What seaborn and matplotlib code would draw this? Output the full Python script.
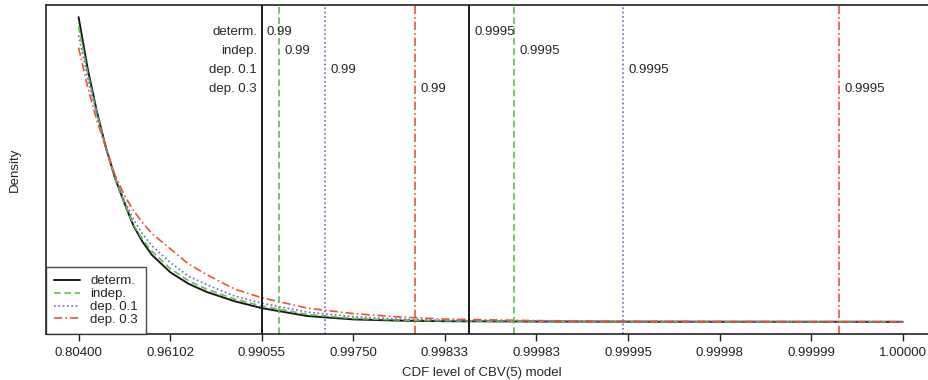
import pandas as pd
import seaborn as sns
import matplotlib.pyplot as plt

# x positions on the (evenly spaced) CDF-level axis, tick i <-> tick_labels[i]
tick_labels = ["0.80400", "0.96102", "0.99055", "0.99750", "0.99833",
               "0.99983", "0.99995", "0.99998", "0.99999", "1.00000"]

u = [0, 0.1, 0.2, 0.3, 0.4, 0.5, 0.6, 0.7, 0.8, 1.0, 1.2, 1.4, 1.7,
     2.0, 2.5, 3.0, 3.5, 4.0, 5.0, 6.0, 7.0, 8.0, 9.0]

determ = [1.00, 0.83, 0.69, 0.57, 0.47, 0.39, 0.315, 0.262, 0.22, 0.163, 0.125, 0.098, 0.068,
          0.045, 0.019, 0.008, 0.004, 0.002, 0.001, 0.0005, 0.0003, 0.0002, 0.0001]
indep = [0.97, 0.815, 0.685, 0.57, 0.47, 0.392, 0.318, 0.27, 0.232, 0.175, 0.135, 0.107, 0.075,
         0.052, 0.024, 0.011, 0.006, 0.003, 0.0013, 0.0007, 0.0004, 0.0003, 0.0002]
dep01 = [0.94, 0.80, 0.68, 0.57, 0.475, 0.40, 0.335, 0.288, 0.25, 0.195, 0.15, 0.122, 0.085,
         0.061, 0.032, 0.017, 0.009, 0.005, 0.002, 0.001, 0.0007, 0.0004, 0.0003]
dep03 = [0.90, 0.77, 0.66, 0.57, 0.48, 0.415, 0.365, 0.325, 0.29, 0.24, 0.19, 0.155, 0.108,
         0.079, 0.045, 0.027, 0.016, 0.009, 0.004, 0.002, 0.0012, 0.0008, 0.0005]

models = ["determ.", "indep.", "dep. 0.1", "dep. 0.3"]
q99 = [2.0, 2.192, 2.691, 3.674]
q9995 = [4.267, 4.755, 5.942, 8.307]

colors = ["#1a1a1a", "#5cbf4a", "#6666cc", "#e8552e"]
styles = ["-", (0, (4, 2.2)), (0, (1, 1.6)), (0, (5, 1.8, 1, 1.8))]
widths = [1.4, 1.2, 1.2, 1.2]

sns.set_style("ticks")
plt.rcParams["font.family"] = ["Liberation Sans", "DejaVu Sans"]

fig = plt.figure(figsize=(9.29, 3.8), dpi=100)
ax = fig.add_axes([0.0491, 0.121, 0.958, 0.866])

for name, vals, c, ls, lw in zip(models, [determ, indep, dep01, dep03], colors, styles, widths):
    sns.lineplot(x=u, y=vals, color=c, linestyle=ls, lw=lw, label=name, ax=ax)

text_y = [0.951, 0.889, 0.826, 0.764]
for i in range(4):
    ax.axvline(q99[i], color=colors[i], linestyle=styles[i], lw=widths[i])
    ax.axvline(q9995[i], color=colors[i], linestyle=styles[i], lw=widths[i])
    ax.text(q99[0] - 0.05, text_y[i], models[i], ha="right", va="center", fontsize=9.5)
    ax.text(q99[i] + 0.055, text_y[i], "0.99", ha="left", va="center", fontsize=9.5)
    ax.text(q9995[i] + 0.06, text_y[i], "0.9995", ha="left", va="center", fontsize=9.5)

ax.set_xlim(-0.36, 9.36)
ax.set_ylim(-0.04, 1.04)
ax.set_xticks(range(len(tick_labels)))
ax.set_xticklabels(tick_labels)
ax.set_yticks([])
ax.tick_params(axis="x", direction="out", length=5, width=1, pad=4, labelsize=9.5, colors="#222222")
for s in ax.spines.values():
    s.set_color("#222222")
    s.set_linewidth(1.2)

ax.set_xlabel("CDF level of CBV(5) model", fontsize=9.5)
ax.set_ylabel("Density", fontsize=9.5)
ax.xaxis.set_label_coords(0.49, -0.1)
ax.yaxis.set_label_coords(-0.028, 0.5)

leg = ax.legend(loc="lower left", borderaxespad=0, fancybox=False, fontsize=9.5,
                handlelength=2.0, handletextpad=0.8, labelspacing=0.05, borderpad=0.6)
leg.get_frame().set_edgecolor("#222222")
leg.get_frame().set_linewidth(1.0)

plt.savefig("out.png", dpi=100)
